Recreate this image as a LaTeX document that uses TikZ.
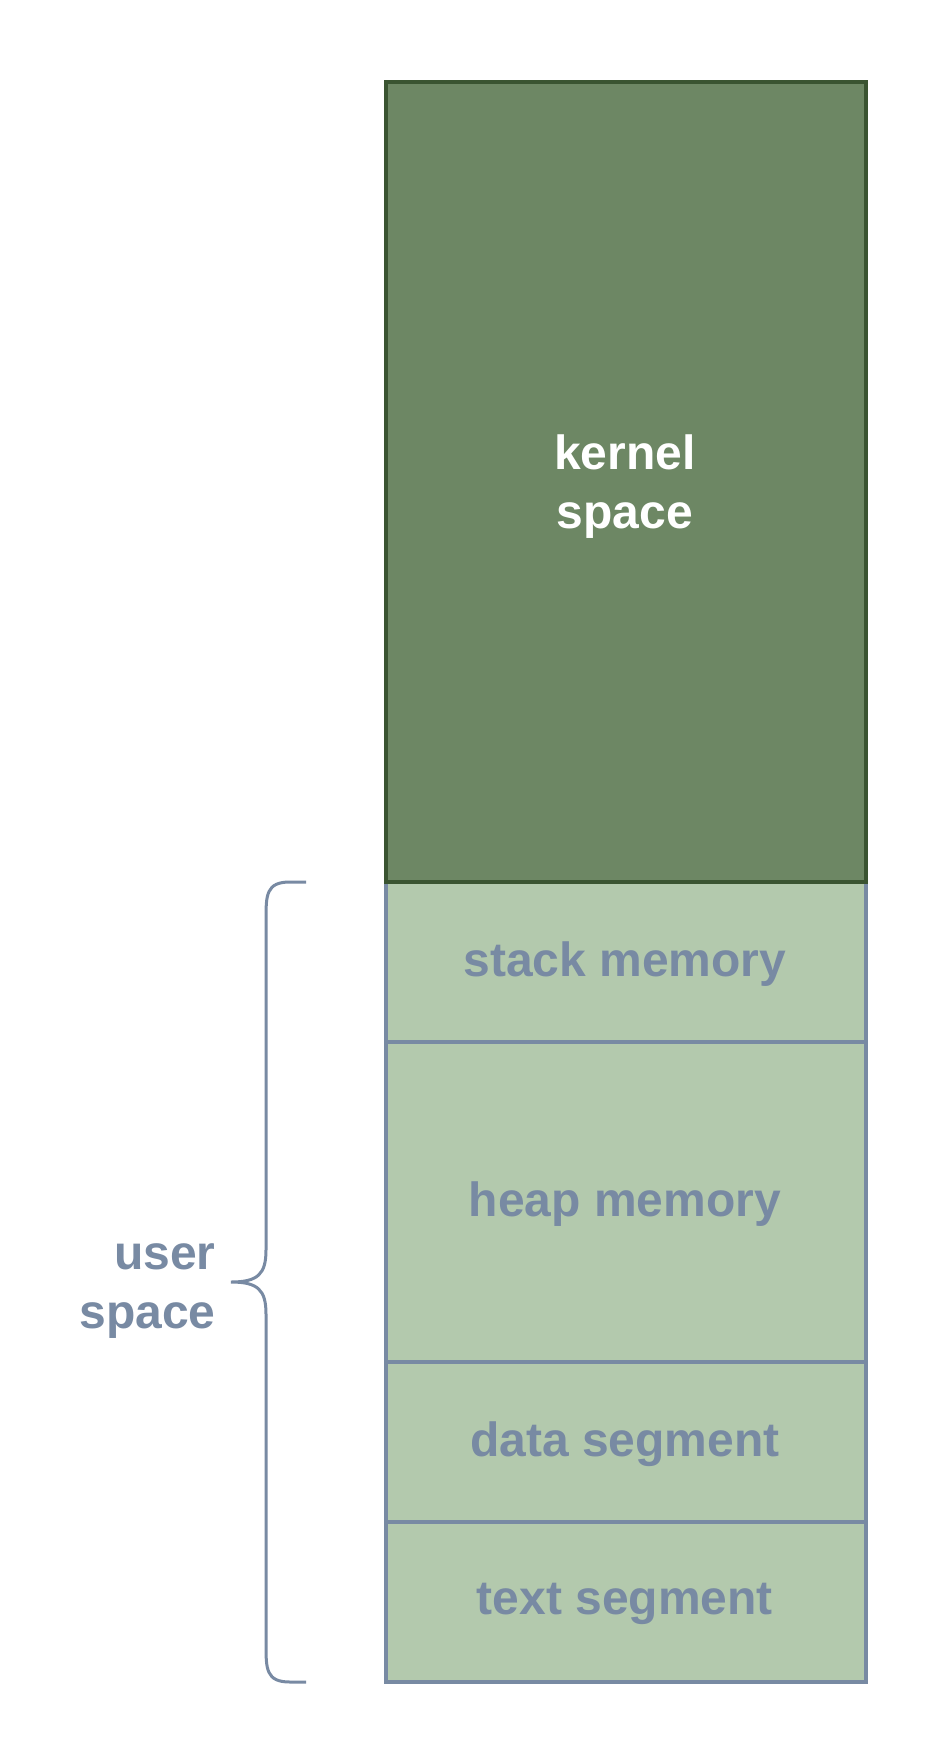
\documentclass[tikz,border=0pt]{standalone}
\usepackage{fontspec}
\setmainfont{Liberation Sans}
\definecolor{kfill}{HTML}{6D8764}
\definecolor{kdraw}{HTML}{3A5431}
\definecolor{ufill}{HTML}{B3C9AD}
\definecolor{udraw}{HTML}{788AA3}
\begin{document}
\begin{tikzpicture}[x=1pt,y=-1pt,
  seg/.style={draw=udraw,fill=ufill,line width=3.5pt},
  kern/.style={draw=kdraw,fill=kfill,line width=3.5pt},
  lbl/.style={font=\fontsize{48}{59}\selectfont\bfseries,align=center},
  brace/.style={draw=udraw,line width=3pt}]
\useasboundingbox (0,0) rectangle (948,1764);
\fill[white] (0,0) rectangle (948,1764);
\draw[seg] (386,882) rectangle (866,1042);
\draw[seg] (386,1042) rectangle (866,1362);
\draw[seg] (386,1362) rectangle (866,1522);
\draw[seg] (386,1522) rectangle (866,1682);
\draw[kern] (386,82) rectangle (866,882);
\node[lbl,text=white] (kernel) at (625,487) {kernel\\space};
\node[lbl,text=udraw] (stack) at (625,964) {stack memory};
\node[lbl,text=udraw] (heap) at (625,1204) {heap memory};
\node[lbl,text=udraw] (data) at (625,1444) {data segment};
\node[lbl,text=udraw] (textseg) at (625,1604) {text segment};
\node[lbl,text=udraw,align=right,anchor=east] (user) at (219,1291) {user\\space};
\coordinate (btop) at (306,882);
\coordinate (bmid) at (231,1282);
\coordinate (bbot) at (306,1682);
\draw[brace] (btop) -- (290,882) .. controls (266,882) and (266,895) .. (266,920)
  -- (266,1250) .. controls (266,1274) and (258,1282) .. (bmid)
  (bmid) .. controls (258,1282) and (266,1290) .. (266,1314)
  -- (266,1644) .. controls (266,1669) and (266,1682) .. (290,1682) -- (bbot);
\end{tikzpicture}
\end{document}
